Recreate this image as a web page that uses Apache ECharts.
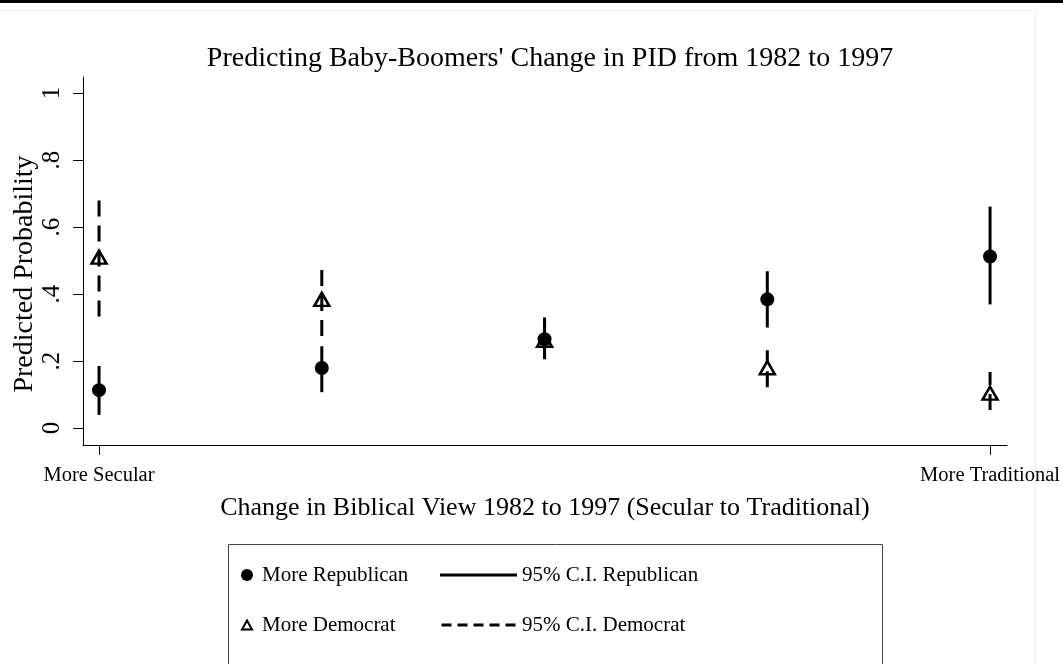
<!DOCTYPE html>
<html>
<head>
<meta charset="utf-8">
<script src="https://cdn.jsdelivr.net/npm/echarts@6/dist/echarts.min.js"></script>
<style>
  html, body { margin: 0; padding: 0; background: #fff; }
  #main { width: 1063px; height: 664px; }
</style>
</head>
<body>
<div id="main"></div>
<script>
// positions along the x axis (1 = More Secular ... 5 = More Traditional)
var positions = [1, 2, 3, 4, 5];

// More Republican: predicted probability and 95% C.I.
var repMean = [0.113, 0.179, 0.265, 0.384, 0.512];
var repLow  = [0.039, 0.107, 0.208, 0.300, 0.369];
var repHigh = [0.185, 0.244, 0.330, 0.468, 0.661];

// More Democrat
var demMean = [0.510, 0.384, 0.262, 0.180, 0.104];
var demLow  = [0.333, 0.275, 0.205, 0.122, 0.054];
var demHigh = [0.690, 0.490, 0.325, 0.232, 0.167];

var xTickValues = [1, 5];
var xTickLabels = ['More Secular', 'More Traditional'];
var yTickValues = [0, 0.2, 0.4, 0.6, 0.8, 1];
var yTickLabels = ['0', '.2', '.4', '.6', '.8', '1'];

var FONT = 'Liberation Serif';
var chart = echarts.init(document.getElementById('main'));

function pointData(means) {
  return positions.map(function (x, i) { return [x, means[i]]; });
}
function ciData(lows, highs) {
  return positions.map(function (x, i) { return [x, lows[i], highs[i]]; });
}
function ciRender(dashed) {
  return function (params, api) {
    var p1 = api.coord([api.value(0), api.value(1)]);
    var p2 = api.coord([api.value(0), api.value(2)]);
    return {
      type: 'line',
      shape: { x1: p1[0], y1: p1[1], x2: p2[0], y2: p2[1] },
      style: { stroke: '#000', lineWidth: 3, lineDash: dashed ? [16, 9] : null }
    };
  };
}

var dashIcon = 'path://M0 0h10v3H0z M16 0h10v3H16z M32 0h10v3H32z M48 0h10v3H48z M64 0h10v3H64z';
var triIcon = 'path://M5 0L10 9L0 9Z';
var legendText = { fontFamily: FONT, fontSize: 21, color: '#000', lineHeight: 24 };

var option = {
  backgroundColor: '#fff',
  animation: false,
  title: {
    text: "Predicting Baby-Boomers' Change in PID from 1982 to 1997",
    left: 545,
    textAlign: 'center',
    top: 40,
    textStyle: { fontFamily: FONT, fontSize: 28, fontWeight: 'normal', color: '#000' }
  },
  grid: { left: 83, right: 56, top: 77, bottom: 219 },
  xAxis: {
    type: 'value',
    min: 0.928,
    max: 5.076,
    name: 'Change in Biblical View 1982 to 1997 (Secular to Traditional)',
    nameLocation: 'middle',
    nameGap: 50,
    nameTextStyle: { fontFamily: FONT, fontSize: 26, color: '#000' },
    axisLine: { onZero: false, lineStyle: { color: '#000', width: 1 } },
    axisTick: { show: true, length: 10, customValues: xTickValues, lineStyle: { color: '#000' } },
    axisLabel: {
      customValues: xTickValues,
      margin: 20,
      fontFamily: FONT, fontSize: 20.5, color: '#000',
      formatter: function (v) { return xTickLabels[xTickValues.indexOf(v)]; }
    },
    splitLine: { show: false }
  },
  yAxis: {
    type: 'value',
    min: -0.0507,
    max: 1.0478,
    axisLine: { show: true, onZero: false, lineStyle: { color: '#000', width: 1 } },
    axisTick: { show: true, length: 10, customValues: yTickValues, lineStyle: { color: '#000' } },
    axisLabel: {
      customValues: yTickValues,
      rotate: 90,
      margin: 18,
      fontFamily: FONT, fontSize: 25, color: '#000',
      formatter: function (v) {
        var i = yTickValues.findIndex(function (t) { return Math.abs(t - v) < 1e-9; });
        return i >= 0 ? yTickLabels[i] : '';
      }
    },
    splitLine: { show: false }
  },
  legend: [{
    left: 236,
    top: 558,
    itemWidth: 20,
    itemHeight: 12,
    textStyle: legendText,
    data: [{ name: 'More Republican', icon: 'circle' }]
  }, {
    left: 236,
    top: 608,
    itemWidth: 20,
    itemHeight: 9,
    textStyle: legendText,
    data: [{ name: 'More Democrat', icon: triIcon }]
  }, {
    orient: 'vertical',
    left: 435,
    top: 558,
    itemWidth: 77,
    itemHeight: 3,
    itemGap: 26,
    textStyle: legendText,
    data: [{ name: '95% C.I. Republican', icon: 'rect' }, { name: '95% C.I. Democrat', icon: dashIcon }]
  }],
  graphic: [
    { type: 'rect', shape: { x: 0, y: 0, width: 1063, height: 3 }, style: { fill: '#000' } },
    { type: 'line', shape: { x1: 0, y1: 10.5, x2: 1035, y2: 10.5 }, style: { stroke: '#eeeeee', lineWidth: 1 } },
    { type: 'line', shape: { x1: 1035.5, y1: 10, x2: 1035.5, y2: 664 }, style: { stroke: '#eeeeee', lineWidth: 1 } },
    { type: 'rect', shape: { x: 228.5, y: 544.5, width: 654, height: 200 },
      style: { fill: 'none', stroke: '#444', lineWidth: 1 } },
    { type: 'text', x: 25, y: 274, rotation: Math.PI / 2,
      style: { text: 'Predicted Probability', fontFamily: FONT, fontSize: 28, fill: '#000',
               textAlign: 'center', textVerticalAlign: 'middle' } }
  ],
  series: [{
    name: '95% C.I. Democrat',
    type: 'custom',
    renderItem: ciRender(true),
    itemStyle: { color: '#000' },
    encode: { x: 0, y: [1, 2] },
    data: ciData(demLow, demHigh)
  }, {
    name: '95% C.I. Republican',
    type: 'custom',
    renderItem: ciRender(false),
    itemStyle: { color: '#000' },
    encode: { x: 0, y: [1, 2] },
    data: ciData(repLow, repHigh)
  }, {
    name: 'More Democrat',
    type: 'scatter',
    symbol: 'triangle',
    symbolSize: [15, 13],
    itemStyle: { color: 'rgba(0,0,0,0)', borderColor: '#000', borderWidth: 2.5, opacity: 1 },
    data: pointData(demMean)
  }, {
    name: 'More Republican',
    type: 'scatter',
    symbol: 'circle',
    symbolSize: 14,
    itemStyle: { color: '#000', opacity: 1 },
    data: pointData(repMean)
  }]
};

chart.setOption(option);
</script>
</body>
</html>
